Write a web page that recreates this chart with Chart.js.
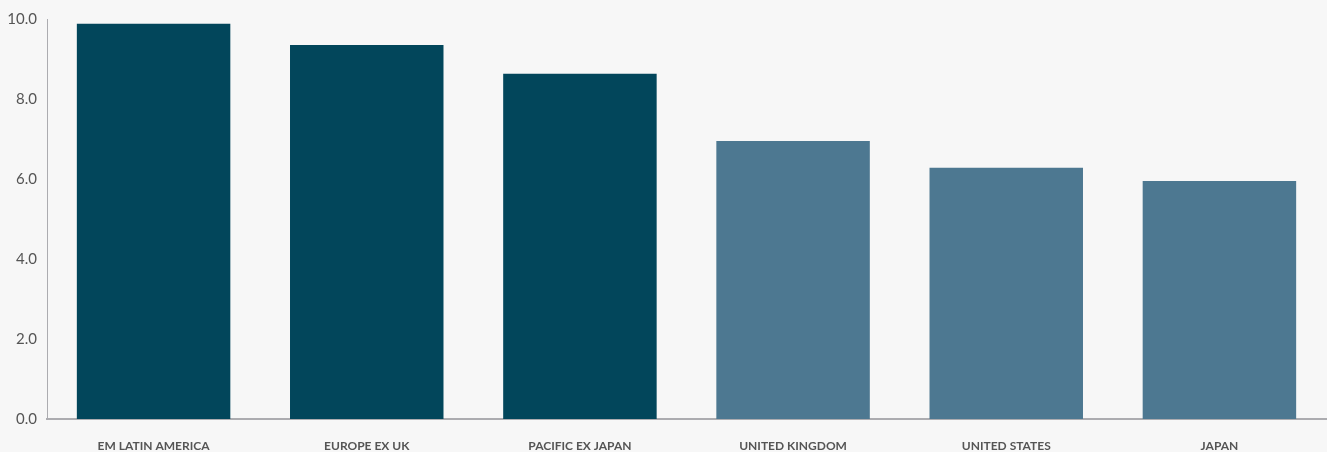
<!DOCTYPE html>
<html lang="en">
<head>
  <meta charset="UTF-8">
  <title>Bar chart</title>
  <script src="https://cdn.jsdelivr.net/npm/chart.js"></script>
  <style>
    html, body {
      margin: 0;
      padding: 0;
      background-color: #f7f7f7;
    }
    .chart-container {
      width: 1327px;
      height: 452px;
    }
  </style>
</head>
<body>
  <div class="chart-container">
    <canvas id="regionChart"></canvas>
  </div>

  <script>
    const regions = ['EM LATIN AMERICA', 'EUROPE EX UK', 'PACIFIC EX JAPAN', 'UNITED KINGDOM', 'UNITED STATES', 'JAPAN'];
    const values = [9.88, 9.35, 8.63, 6.95, 6.28, 5.95];
    const barColors = ['#02465b', '#02465b', '#02465b', '#4d7891', '#4d7891', '#4d7891'];
    const yTicks = [0, 2, 4, 6, 8, 10];

    new Chart(document.getElementById('regionChart'), {
      type: 'bar',
      data: {
        labels: regions,
        datasets: [{
          data: values,
          backgroundColor: barColors,
          barPercentage: 0.72,
          categoryPercentage: 1.0
        }]
      },
      options: {
        responsive: true,
        maintainAspectRatio: false,
        animation: false,
        layout: {
          padding: { top: 19, right: 1, left: 0, bottom: 0 }
        },
        plugins: {
          legend: { display: false },
          tooltip: { enabled: false }
        },
        scales: {
          x: {
            grid: { display: false, drawTicks: false },
            border: { color: '#acacb0', width: 2 },
            ticks: {
              color: '#555555',
              padding: 20,
              font: { family: 'Lato', size: 12, weight: 'bold' },
              maxRotation: 0
            },
            afterFit: (scale) => { scale.height = 33; }
          },
          y: {
            min: 0,
            max: 10,
            grid: { display: false, drawTicks: false },
            border: { color: '#acacb0', width: 1 },
            afterBuildTicks: (scale) => {
              scale.ticks = yTicks.map(v => ({ value: v }));
            },
            ticks: {
              color: '#555555',
              padding: 10,
              font: { family: 'Lato', size: 15 },
              callback: (v) => Number(v).toFixed(1)
            },
            afterFit: (scale) => { scale.width = 47; }
          }
        }
      }
    });
  </script>
</body>
</html>
